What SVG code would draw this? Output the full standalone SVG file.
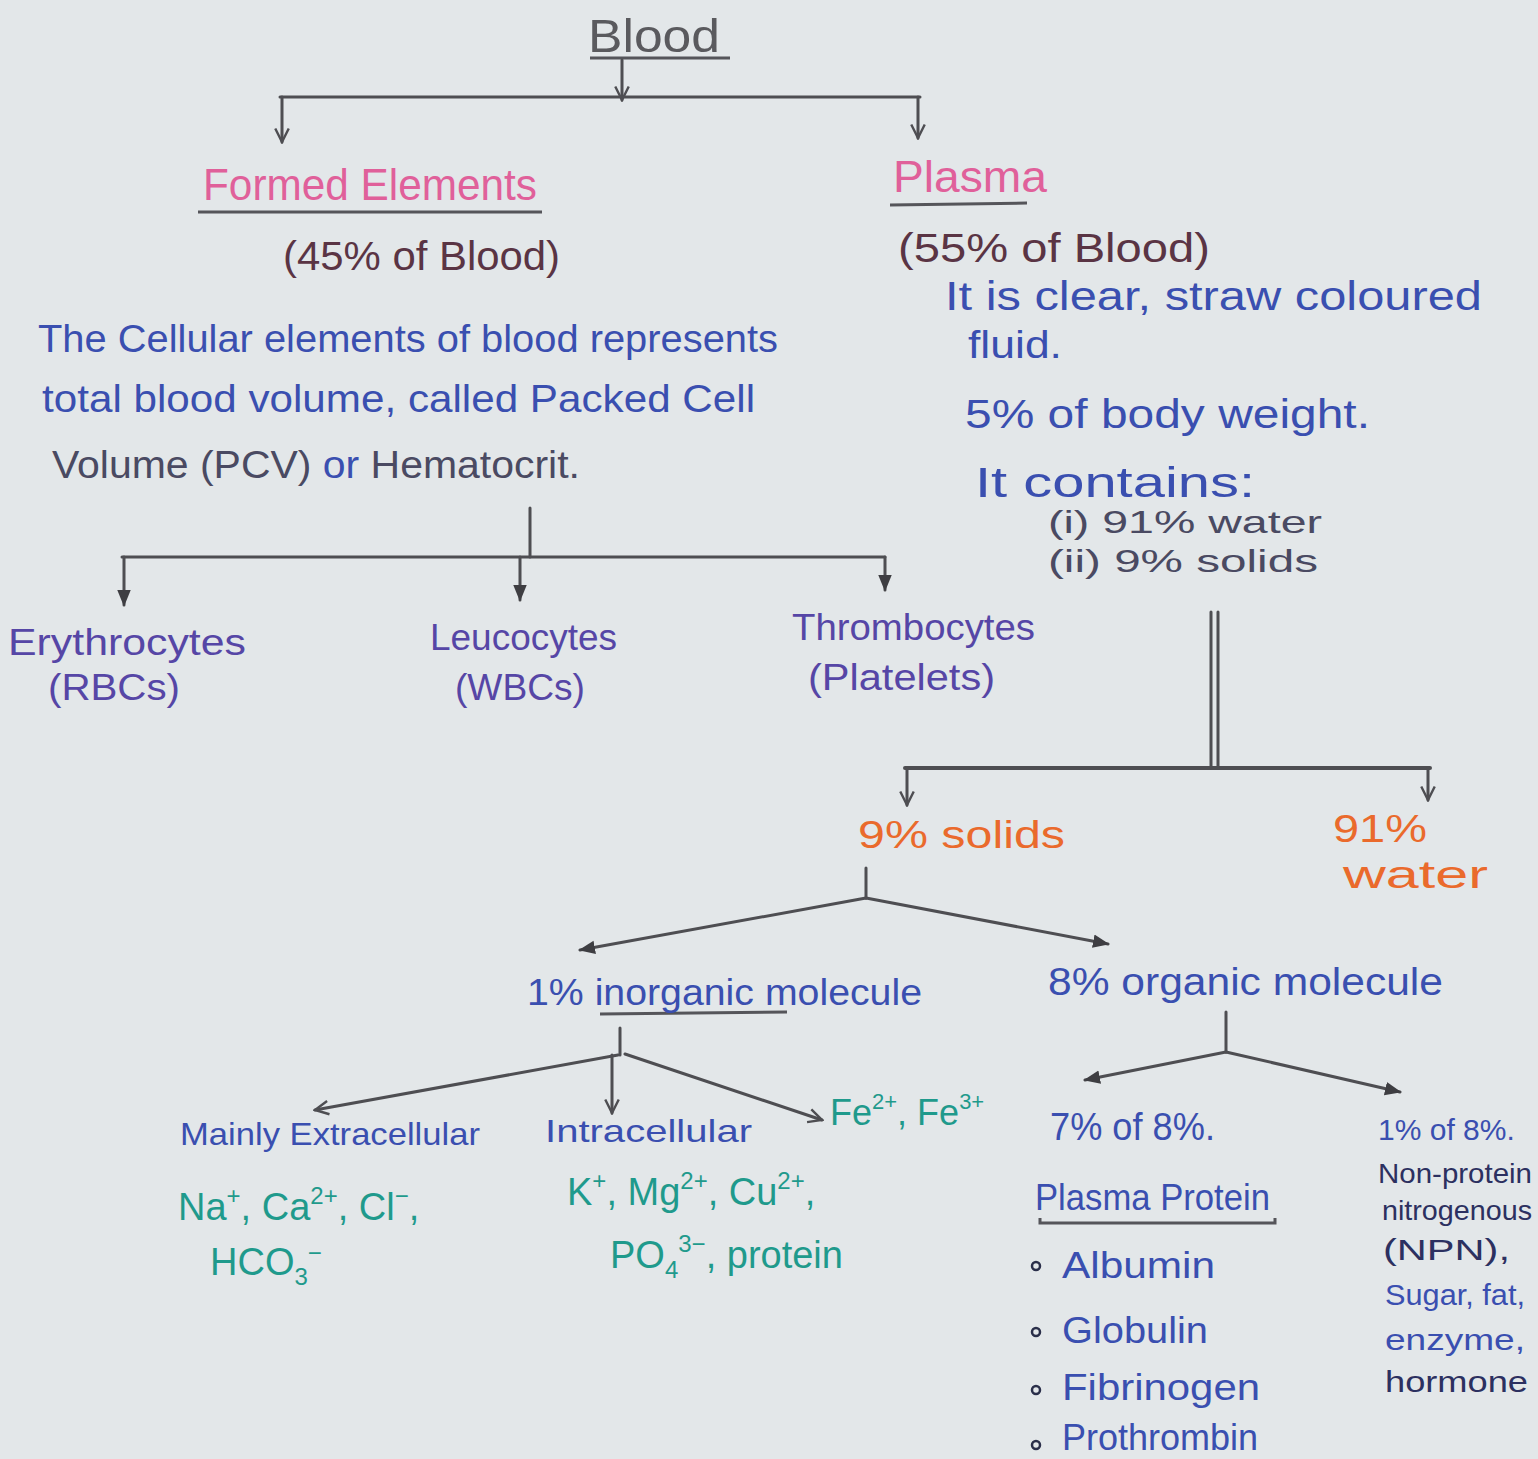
<svg xmlns="http://www.w3.org/2000/svg" width="1538" height="1459" viewBox="0 0 1538 1459">
<defs>
<style>
text{font-family:"Liberation Sans","Open Sans",sans-serif;}
.gray{fill:#5a5a5e;}
.pink{fill:#e0609a;}
.maroon{fill:#5a3444;}
.blue{fill:#3a4fb0;}
.navy{fill:#2c3060;}
.purple{fill:#5646a6;}
.teal{fill:#1f9a8c;}
.orange{fill:#ea6a2c;}
.dgray{fill:#4a4a62;}
.ln{stroke:#4e4e52;stroke-width:3;fill:none;stroke-linecap:round;}
.ul{stroke:#55555a;stroke-width:3;fill:none;}
</style>
<marker id="aO" viewBox="0 0 12 12" refX="10.5" refY="6" markerWidth="18" markerHeight="18" markerUnits="userSpaceOnUse" orient="auto"><path d="M1.5,1.5 L10.5,6 L1.5,10.5" fill="none" stroke="#4e4e52" stroke-width="1.6"/></marker>
<marker id="aF" viewBox="0 0 12 12" refX="10" refY="6" markerWidth="18" markerHeight="18" markerUnits="userSpaceOnUse" orient="auto"><path d="M0,1.5 L11,6 L0,10.5 Z" fill="#3e3e42"/></marker>
</defs>
<rect width="1538" height="1459" fill="#e3e7e9"/>

<g id="connectors">
<line class="ul" x1="590" y1="58" x2="730" y2="58"/>
<line class="ln" x1="622" y1="60" x2="622" y2="100" marker-end="url(#aO)"/>
<line class="ln" x1="280" y1="97" x2="920" y2="97"/>
<line class="ln" x1="282" y1="97" x2="282" y2="142" marker-end="url(#aO)"/>
<line class="ln" x1="918" y1="97" x2="918" y2="138" marker-end="url(#aO)"/>
<line class="ul" x1="198" y1="212" x2="542" y2="212"/>
<line class="ul" x1="890" y1="205" x2="1027" y2="203"/>
<line class="ln" x1="530" y1="508" x2="530" y2="557"/>
<line class="ln" x1="122" y1="557" x2="885" y2="557"/>
<line class="ln" x1="124" y1="557" x2="124" y2="605" marker-end="url(#aF)"/>
<line class="ln" x1="520" y1="557" x2="520" y2="600" marker-end="url(#aF)"/>
<line class="ln" x1="885" y1="557" x2="885" y2="590" marker-end="url(#aF)"/>
<line class="ln" x1="1211" y1="612" x2="1211" y2="768"/>
<line class="ln" x1="1218" y1="612" x2="1218" y2="768"/>
<line class="ln" x1="905" y1="768" x2="1430" y2="768" style="stroke-width:4"/>
<line class="ln" x1="907" y1="768" x2="907" y2="805" marker-end="url(#aO)"/>
<line class="ln" x1="1428" y1="768" x2="1428" y2="800" marker-end="url(#aO)"/>
<line class="ln" x1="866" y1="868" x2="866" y2="898"/>
<line class="ln" x1="866" y1="898" x2="580" y2="950" marker-end="url(#aF)"/>
<line class="ln" x1="866" y1="898" x2="1108" y2="944" marker-end="url(#aF)"/>
<line class="ul" x1="600" y1="1014" x2="787" y2="1012"/>
<line class="ln" x1="620" y1="1028" x2="620" y2="1055"/>
<line class="ln" x1="618" y1="1055" x2="315" y2="1110" marker-end="url(#aO)"/>
<line class="ln" x1="612" y1="1055" x2="612" y2="1113" marker-end="url(#aO)"/>
<line class="ln" x1="625" y1="1054" x2="822" y2="1120" marker-end="url(#aO)"/>
<line class="ln" x1="1226" y1="1012" x2="1226" y2="1052"/>
<line class="ln" x1="1226" y1="1052" x2="1085" y2="1080" marker-end="url(#aF)"/>
<line class="ln" x1="1226" y1="1052" x2="1400" y2="1092" marker-end="url(#aF)"/>
<path class="ul" d="M1040,1218 L1040,1223 L1275,1223 L1275,1218"/>
</g>

<g id="blood"><text class="gray" x="588" y="52" font-size="46" textLength="132" lengthAdjust="spacingAndGlyphs">Blood</text></g>

<g id="formed-elements">
<text class="pink" x="203" y="200" font-size="44" textLength="334" lengthAdjust="spacingAndGlyphs">Formed Elements</text>
<text class="maroon" x="283" y="270" font-size="40" textLength="277" lengthAdjust="spacingAndGlyphs">(45% of Blood)</text>
</g>

<g id="plasma">
<text class="pink" x="893" y="192" font-size="44" textLength="154" lengthAdjust="spacingAndGlyphs">Plasma</text>
<text class="maroon" x="898" y="262" font-size="40" textLength="312" lengthAdjust="spacingAndGlyphs">(55% of Blood)</text>
</g>

<g id="plasma-desc">
<text class="blue" x="945" y="310" font-size="40" textLength="537" lengthAdjust="spacingAndGlyphs">It is clear, straw coloured</text>
<text class="blue" x="968" y="358" font-size="38" textLength="94" lengthAdjust="spacingAndGlyphs">fluid.</text>
<text class="blue" x="965" y="428" font-size="40" textLength="405" lengthAdjust="spacingAndGlyphs">5% of body weight.</text>
<text class="blue" x="975" y="497" font-size="42" textLength="280" lengthAdjust="spacingAndGlyphs">It contains:</text>
<text class="dgray" x="1048" y="533" font-size="32" textLength="274" lengthAdjust="spacingAndGlyphs">(i) 91% water</text>
<text class="dgray" x="1048" y="572" font-size="32" textLength="270" lengthAdjust="spacingAndGlyphs">(ii) 9% solids</text>
</g>

<g id="formed-desc">
<text class="blue" x="38" y="352" font-size="38" textLength="740" lengthAdjust="spacingAndGlyphs">The Cellular elements of blood represents</text>
<text class="blue" x="42" y="412" font-size="38" textLength="713" lengthAdjust="spacingAndGlyphs">total blood volume, called Packed Cell</text>
<text x="52" y="478" font-size="38" textLength="528" lengthAdjust="spacingAndGlyphs"><tspan class="dgray">Volume (PCV) </tspan><tspan class="blue">or </tspan><tspan class="dgray">Hematocrit.</tspan></text>
</g>

<g id="erythrocytes">
<text class="purple" x="8" y="655" font-size="36" textLength="238" lengthAdjust="spacingAndGlyphs">Erythrocytes</text>
<text class="purple" x="48" y="700" font-size="36" textLength="132" lengthAdjust="spacingAndGlyphs">(RBCs)</text>
</g>
<g id="leucocytes">
<text class="purple" x="430" y="650" font-size="36" textLength="187" lengthAdjust="spacingAndGlyphs">Leucocytes</text>
<text class="purple" x="455" y="700" font-size="36" textLength="130" lengthAdjust="spacingAndGlyphs">(WBCs)</text>
</g>
<g id="thrombocytes">
<text class="purple" x="792" y="640" font-size="36" textLength="243" lengthAdjust="spacingAndGlyphs">Thrombocytes</text>
<text class="purple" x="808" y="690" font-size="36" textLength="187" lengthAdjust="spacingAndGlyphs">(Platelets)</text>
</g>

<g id="solids"><text class="orange" x="858" y="848" font-size="38" textLength="207" lengthAdjust="spacingAndGlyphs">9% solids</text></g>
<g id="water">
<text class="orange" x="1333" y="842" font-size="38" textLength="94" lengthAdjust="spacingAndGlyphs">91%</text>
<text class="orange" x="1343" y="888" font-size="38" textLength="145" lengthAdjust="spacingAndGlyphs">water</text>
</g>

<g id="inorganic"><text class="blue" x="527" y="1005" font-size="36" textLength="395" lengthAdjust="spacingAndGlyphs">1% inorganic molecule</text></g>
<g id="organic"><text class="blue" x="1048" y="995" font-size="38" textLength="395" lengthAdjust="spacingAndGlyphs">8% organic molecule</text></g>

<g id="extracellular">
<text class="blue" x="180" y="1145" font-size="32" textLength="300" lengthAdjust="spacingAndGlyphs">Mainly Extracellular</text>
<text class="teal" x="178" y="1220" font-size="38">Na<tspan font-size="24" dy="-16">+</tspan><tspan dy="16">, Ca</tspan><tspan font-size="24" dy="-16">2+</tspan><tspan dy="16">, Cl</tspan><tspan font-size="24" dy="-16">−</tspan><tspan dy="16">,</tspan></text>
<text class="teal" x="210" y="1275" font-size="38">HCO<tspan font-size="24" dy="10">3</tspan><tspan font-size="24" dy="-24">−</tspan></text>
</g>
<g id="intracellular">
<text class="blue" x="545" y="1142" font-size="32" textLength="207" lengthAdjust="spacingAndGlyphs">Intracellular</text>
<text class="teal" x="567" y="1205" font-size="38">K<tspan font-size="24" dy="-16">+</tspan><tspan dy="16">, Mg</tspan><tspan font-size="24" dy="-16">2+</tspan><tspan dy="16">, Cu</tspan><tspan font-size="24" dy="-16">2+</tspan><tspan dy="16">,</tspan></text>
<text class="teal" x="610" y="1268" font-size="38">PO<tspan font-size="24" dy="10">4</tspan><tspan font-size="24" dy="-26">3−</tspan><tspan dy="16">, protein</tspan></text>
</g>
<g id="iron">
<text class="teal" x="830" y="1125" font-size="36">Fe<tspan font-size="22" dy="-16">2+</tspan><tspan dy="16">, Fe</tspan><tspan font-size="22" dy="-16">3+</tspan></text>
</g>

<g id="plasma-protein">
<text class="blue" x="1050" y="1140" font-size="38" textLength="165" lengthAdjust="spacingAndGlyphs">7% of 8%.</text>
<text class="blue" x="1035" y="1210" font-size="36" textLength="235" lengthAdjust="spacingAndGlyphs">Plasma Protein</text>
<g fill="none" stroke="#2a2f4a" stroke-width="2.5">
<circle cx="1036" cy="1266" r="4"/><circle cx="1036" cy="1332" r="4"/><circle cx="1036" cy="1390" r="4"/><circle cx="1036" cy="1445" r="4"/>
</g>
<text class="blue" x="1062" y="1278" font-size="36" textLength="153" lengthAdjust="spacingAndGlyphs">Albumin</text>
<text class="blue" x="1062" y="1343" font-size="36" textLength="146" lengthAdjust="spacingAndGlyphs">Globulin</text>
<text class="blue" x="1062" y="1400" font-size="36" textLength="198" lengthAdjust="spacingAndGlyphs">Fibrinogen</text>
<text class="blue" x="1062" y="1450" font-size="36" textLength="196" lengthAdjust="spacingAndGlyphs">Prothrombin</text>
</g>

<g id="npn">
<text class="blue" x="1378" y="1140" font-size="30">1% of 8%.</text>
<text class="navy" x="1378" y="1183" font-size="28" textLength="154" lengthAdjust="spacingAndGlyphs">Non-protein</text>
<text class="navy" x="1382" y="1220" font-size="28" textLength="150" lengthAdjust="spacingAndGlyphs">nitrogenous</text>
<text class="navy" x="1383" y="1260" font-size="30" textLength="127" lengthAdjust="spacingAndGlyphs">(NPN),</text>
<text class="blue" x="1385" y="1305" font-size="30" textLength="140" lengthAdjust="spacingAndGlyphs">Sugar, fat,</text>
<text class="blue" x="1385" y="1350" font-size="30" textLength="140" lengthAdjust="spacingAndGlyphs">enzyme,</text>
<text class="navy" x="1385" y="1392" font-size="30" textLength="143" lengthAdjust="spacingAndGlyphs">hormone</text>
</g>
</svg>
